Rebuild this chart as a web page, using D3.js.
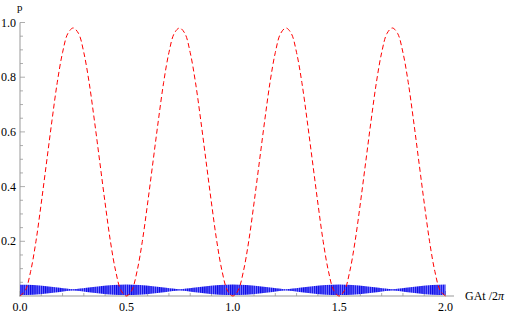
<!DOCTYPE html>
<html>
<head>
<meta charset="utf-8">
<script src="https://cdn.jsdelivr.net/npm/d3@7/dist/d3.min.js"></script>
<style>
  html, body { margin: 0; padding: 0; background: #fff; }
  svg { display: block; font-family: 'Liberation Serif', 'DejaVu Serif', serif; }
</style>
</head>
<body>
<svg id="chart" width="507" height="314"></svg>
<script>
// red dashed curve, sampled every 0.025 from 0 to 2
const redX = d3.range(81).map(i => i * 0.025);
const redP = [
  0.00, 0.02, 0.09, 0.20, 0.34, 0.49, 0.64, 0.78, 0.89, 0.96,
  0.98, 0.96, 0.89, 0.78, 0.64, 0.49, 0.34, 0.20, 0.09, 0.02,
  0.00, 0.02, 0.09, 0.20, 0.34, 0.49, 0.64, 0.78, 0.89, 0.96,
  0.98, 0.96, 0.89, 0.78, 0.64, 0.49, 0.34, 0.20, 0.09, 0.02,
  0.00, 0.02, 0.09, 0.20, 0.34, 0.49, 0.64, 0.78, 0.89, 0.96,
  0.98, 0.96, 0.89, 0.78, 0.64, 0.49, 0.34, 0.20, 0.09, 0.02,
  0.00, 0.02, 0.09, 0.20, 0.34, 0.49, 0.64, 0.78, 0.89, 0.96,
  0.98, 0.96, 0.89, 0.78, 0.64, 0.49, 0.34, 0.20, 0.09, 0.02,
  0.00
];

// blue fast oscillation: envelope read every 0.0625
const blueX = d3.range(33).map(i => i * 0.0625);
const blueLow = [
  0.004, 0.005, 0.009, 0.015, 0.020, 0.015, 0.009, 0.005,
  0.004, 0.005, 0.009, 0.015, 0.020, 0.015, 0.009, 0.005,
  0.004, 0.005, 0.009, 0.015, 0.020, 0.015, 0.009, 0.005,
  0.004, 0.005, 0.009, 0.015, 0.020, 0.015, 0.009, 0.005,
  0.004
];
const blueHigh = [
  0.041, 0.040, 0.036, 0.030, 0.025, 0.030, 0.036, 0.040,
  0.042, 0.040, 0.036, 0.030, 0.025, 0.030, 0.036, 0.040,
  0.042, 0.040, 0.036, 0.030, 0.025, 0.030, 0.036, 0.040,
  0.042, 0.040, 0.036, 0.030, 0.025, 0.030, 0.036, 0.040,
  0.042
];

const xMajor = [0, 0.5, 1.0, 1.5, 2.0];
const xMinor = d3.range(21).map(i => i * 0.1);
const yMajor = [0.2, 0.4, 0.6, 0.8, 1.0];
const yMinor = d3.range(1, 21).map(i => i * 0.05);

const svg = d3.select('#chart');

const x = d3.scaleLinear().domain([0, 2]).range([20, 445.5]);
const y = d3.scaleLinear().domain([0, 1]).range([296, 22.5]);

const axisColor = '#999';

// stripes for the dense oscillation
const defs = svg.append('defs');
const pat = defs.append('pattern')
    .attr('id', 'osc')
    .attr('patternUnits', 'userSpaceOnUse')
    .attr('width', 2.15)
    .attr('height', 20);
pat.append('rect')
    .attr('width', 2.15)
    .attr('height', 20)
    .attr('fill', '#7a7aff');
pat.append('rect')
    .attr('width', 1.2)
    .attr('height', 20)
    .attr('fill', '#0a0ae6');

// axes
const g = svg.append('g');

g.append('line')
    .attr('x1', x(0) - 1).attr('x2', x(2.04))
    .attr('y1', y(0)).attr('y2', y(0))
    .attr('stroke', axisColor);

g.append('line')
    .attr('x1', x(0)).attr('x2', x(0))
    .attr('y1', y(0)).attr('y2', y(1))
    .attr('stroke', axisColor);

g.selectAll('.xminor')
    .data(xMinor)
  .enter().append('line')
    .attr('x1', d => x(d)).attr('x2', d => x(d))
    .attr('y1', y(0)).attr('y2', d => y(0) - (xMajor.some(m => Math.abs(m - d) < 1e-6) ? 5 : 3))
    .attr('stroke', axisColor)
    .attr('stroke-width', 0.8);

g.selectAll('.yminor')
    .data(yMinor)
  .enter().append('line')
    .attr('y1', d => y(d)).attr('y2', d => y(d))
    .attr('x1', x(0)).attr('x2', d => x(0) + (yMajor.some(m => Math.abs(m - d) < 1e-6) ? 5 : 3))
    .attr('stroke', axisColor)
    .attr('stroke-width', 0.8);

g.selectAll('.xlab')
    .data(xMajor)
  .enter().append('text')
    .attr('x', d => x(d))
    .attr('y', 311)
    .attr('text-anchor', 'middle')
    .style('font-size', '12px')
    .text(d => d.toFixed(1));

g.selectAll('.ylab')
    .data(yMajor)
  .enter().append('text')
    .attr('x', 16)
    .attr('y', d => y(d) + 4)
    .attr('text-anchor', 'end')
    .style('font-size', '12px')
    .text(d => d.toFixed(1));

g.append('text')
    .attr('x', 17)
    .attr('y', 10.5)
    .style('font-size', '11px')
    .text('p');

const xl = g.append('text')
    .attr('x', 465)
    .attr('y', 300)
    .style('font-size', '12px');
xl.append('tspan').text('GAt /2');
xl.append('tspan').style('font-style', 'italic').text('\u03c0');

// blue band
const band = d3.area()
    .x((d, i) => x(blueX[i]))
    .y0((d, i) => y(blueLow[i]))
    .y1((d, i) => y(blueHigh[i]))
    .curve(d3.curveMonotoneX);

svg.append('path')
    .datum(blueX)
    .attr('d', band)
    .attr('fill', 'url(#osc)');

// red dashed
const line = d3.line()
    .x((d, i) => x(redX[i]))
    .y(d => y(d))
    .curve(d3.curveCatmullRom);

svg.append('path')
    .datum(redP)
    .attr('d', line)
    .attr('fill', 'none')
    .attr('stroke', '#ff0000')
    .attr('stroke-width', 1)
    .attr('stroke-dasharray', '5,3');
</script>
</body>
</html>
